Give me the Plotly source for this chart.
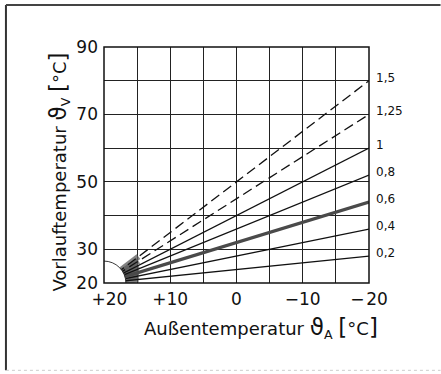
import numpy as np
import plotly.graph_objects as go

# ---- data ----
steepness_labels = ["0,2", "0,4", "0,6", "0,8", "1", "1,25", "1,5"]
outside_temp = [20, -20]                       # Außentemperatur range of each curve
flow_start = 20                                # Vorlauftemperatur at +20 °C outside
flow_end = [28, 36, 44, 52, 60, 70, 80]        # Vorlauftemperatur at -20 °C outside
dashed = [False, False, False, False, False, True, True]
thick = [False, False, True, False, False, False, False]

x_tickvals = [20, 10, 0, -10, -20]
x_ticktext = ["\u00a0\u00a0+20", "+10", "0", "\u221210", "\u2212\u200a20"]
y_tickvals = [20, 30, 50, 70, 90]
y_ticktext = ["20", "30", "50", "70", "90"]

FONT = "DejaVu Sans"
fig = go.Figure()

# gray convergence shading near the start of the curves
for yend in flow_end:
    xs = np.array(outside_temp, dtype=float)
    ys = np.array([flow_start, yend], dtype=float)
    x_cut = xs[0] + 0.13 * (xs[1] - xs[0])
    y_cut = np.interp(x_cut, xs[::-1], ys[::-1])
    fig.add_trace(go.Scatter(x=[xs[0], x_cut], y=[ys[0], y_cut], mode="lines",
                             line=dict(color="rgba(90,90,90,0.75)", width=6),
                             hoverinfo="skip", showlegend=False))

# heating curves
for lab, yend, d, t in zip(steepness_labels, flow_end, dashed, thick):
    fig.add_trace(go.Scatter(
        x=outside_temp, y=[flow_start, yend], mode="lines", name=lab,
        line=dict(color="#4a4a4a" if t else "#111111",
                  width=3.4 if t else 1.3,
                  dash="10px,5px" if d else "solid"),
        showlegend=False))

# curve labels on the right
annotations = []
for lab, yend in zip(steepness_labels, flow_end):
    annotations.append(dict(x=outside_temp[1], y=yend, text=lab, showarrow=False,
                            xanchor="left", yanchor="middle", xshift=5, yshift=3,
                            font=dict(family=FONT, size=12, color="#111")))

big = "font-size:23px"
annotations.append(dict(
    x=0.592, y=-0.19, xref="paper", yref="paper", showarrow=False,
    xanchor="center", yanchor="middle",
    text=("Au\u00dfentemperatur <span style='%s'>\u03d1</span><sub>A</sub> "
          "<span style='%s'>[</span>\u00b0C<span style='%s'>]</span>") % (big, big, big),
    font=dict(family=FONT, size=18, color="#111")))
annotations.append(dict(
    x=-0.168, y=0.47, xref="paper", yref="paper", showarrow=False,
    xanchor="center", yanchor="middle", textangle=-90,
    text=("Vorlauftemperatur <span style='%s'>\u03d1</span><sub>V</sub> "
          "<span style='%s'>[</span>\u00b0C<span style='%s'>]</span>") % (big, big, big),
    font=dict(family=FONT, size=18, color="#111")))

shapes = [
    # white quarter circle at the origin corner
    dict(type="circle", xref="x", yref="y", x0=20 - 3.3, x1=20 + 3.3,
         y0=20 - 6.5, y1=20 + 6.5, fillcolor="white",
         line=dict(color="#222", width=0.9), layer="above"),
    # plot frame
    dict(type="rect", xref="paper", yref="paper", x0=0, x1=1, y0=0, y1=1,
         line=dict(color="#111", width=1.5), layer="above"),
    # outer page frame (left and top dark, bottom light)
    dict(type="line", xref="paper", yref="paper", x0=-0.370, x1=-0.370, y0=-0.37, y1=1.178,
         line=dict(color="#333", width=2)),
    dict(type="line", xref="paper", yref="paper", x0=-0.370, x1=1.27, y0=1.178, y1=1.178,
         line=dict(color="#444", width=2)),
    dict(type="line", xref="paper", yref="paper", x0=-0.370, x1=1.27, y0=-0.37, y1=-0.37,
         line=dict(color="#ccc", width=1, dash="dot")),
]

grid = dict(showgrid=True, gridcolor="#222", gridwidth=1)
fig.update_layout(
    width=441, height=374,
    margin=dict(l=104, r=72, t=47, b=91),
    paper_bgcolor="white", plot_bgcolor="white",
    font=dict(family=FONT, color="#111"),
    annotations=annotations, shapes=shapes,
    xaxis=dict(range=[20, -20], tickmode="array", tickvals=x_tickvals, ticktext=x_ticktext,
               minor=dict(dtick=5, tick0=0, **grid), **grid, zeroline=False,
               ticks="", ticklabelstandoff=4, tickfont=dict(family=FONT, size=17),
               showline=False, fixedrange=True),
    yaxis=dict(range=[20, 90], tickmode="array", tickvals=y_tickvals, ticktext=y_ticktext,
               minor=dict(dtick=10, tick0=0, **grid), **grid, zeroline=False,
               ticks="", ticklabelstandoff=5, tickfont=dict(family=FONT, size=17),
               showline=False, fixedrange=True),
)

fig.write_html("out.html", config={"displayModeBar": False, "staticPlot": True},
               post_script="document.body.style.margin='0';document.body.style.overflow='hidden';")
